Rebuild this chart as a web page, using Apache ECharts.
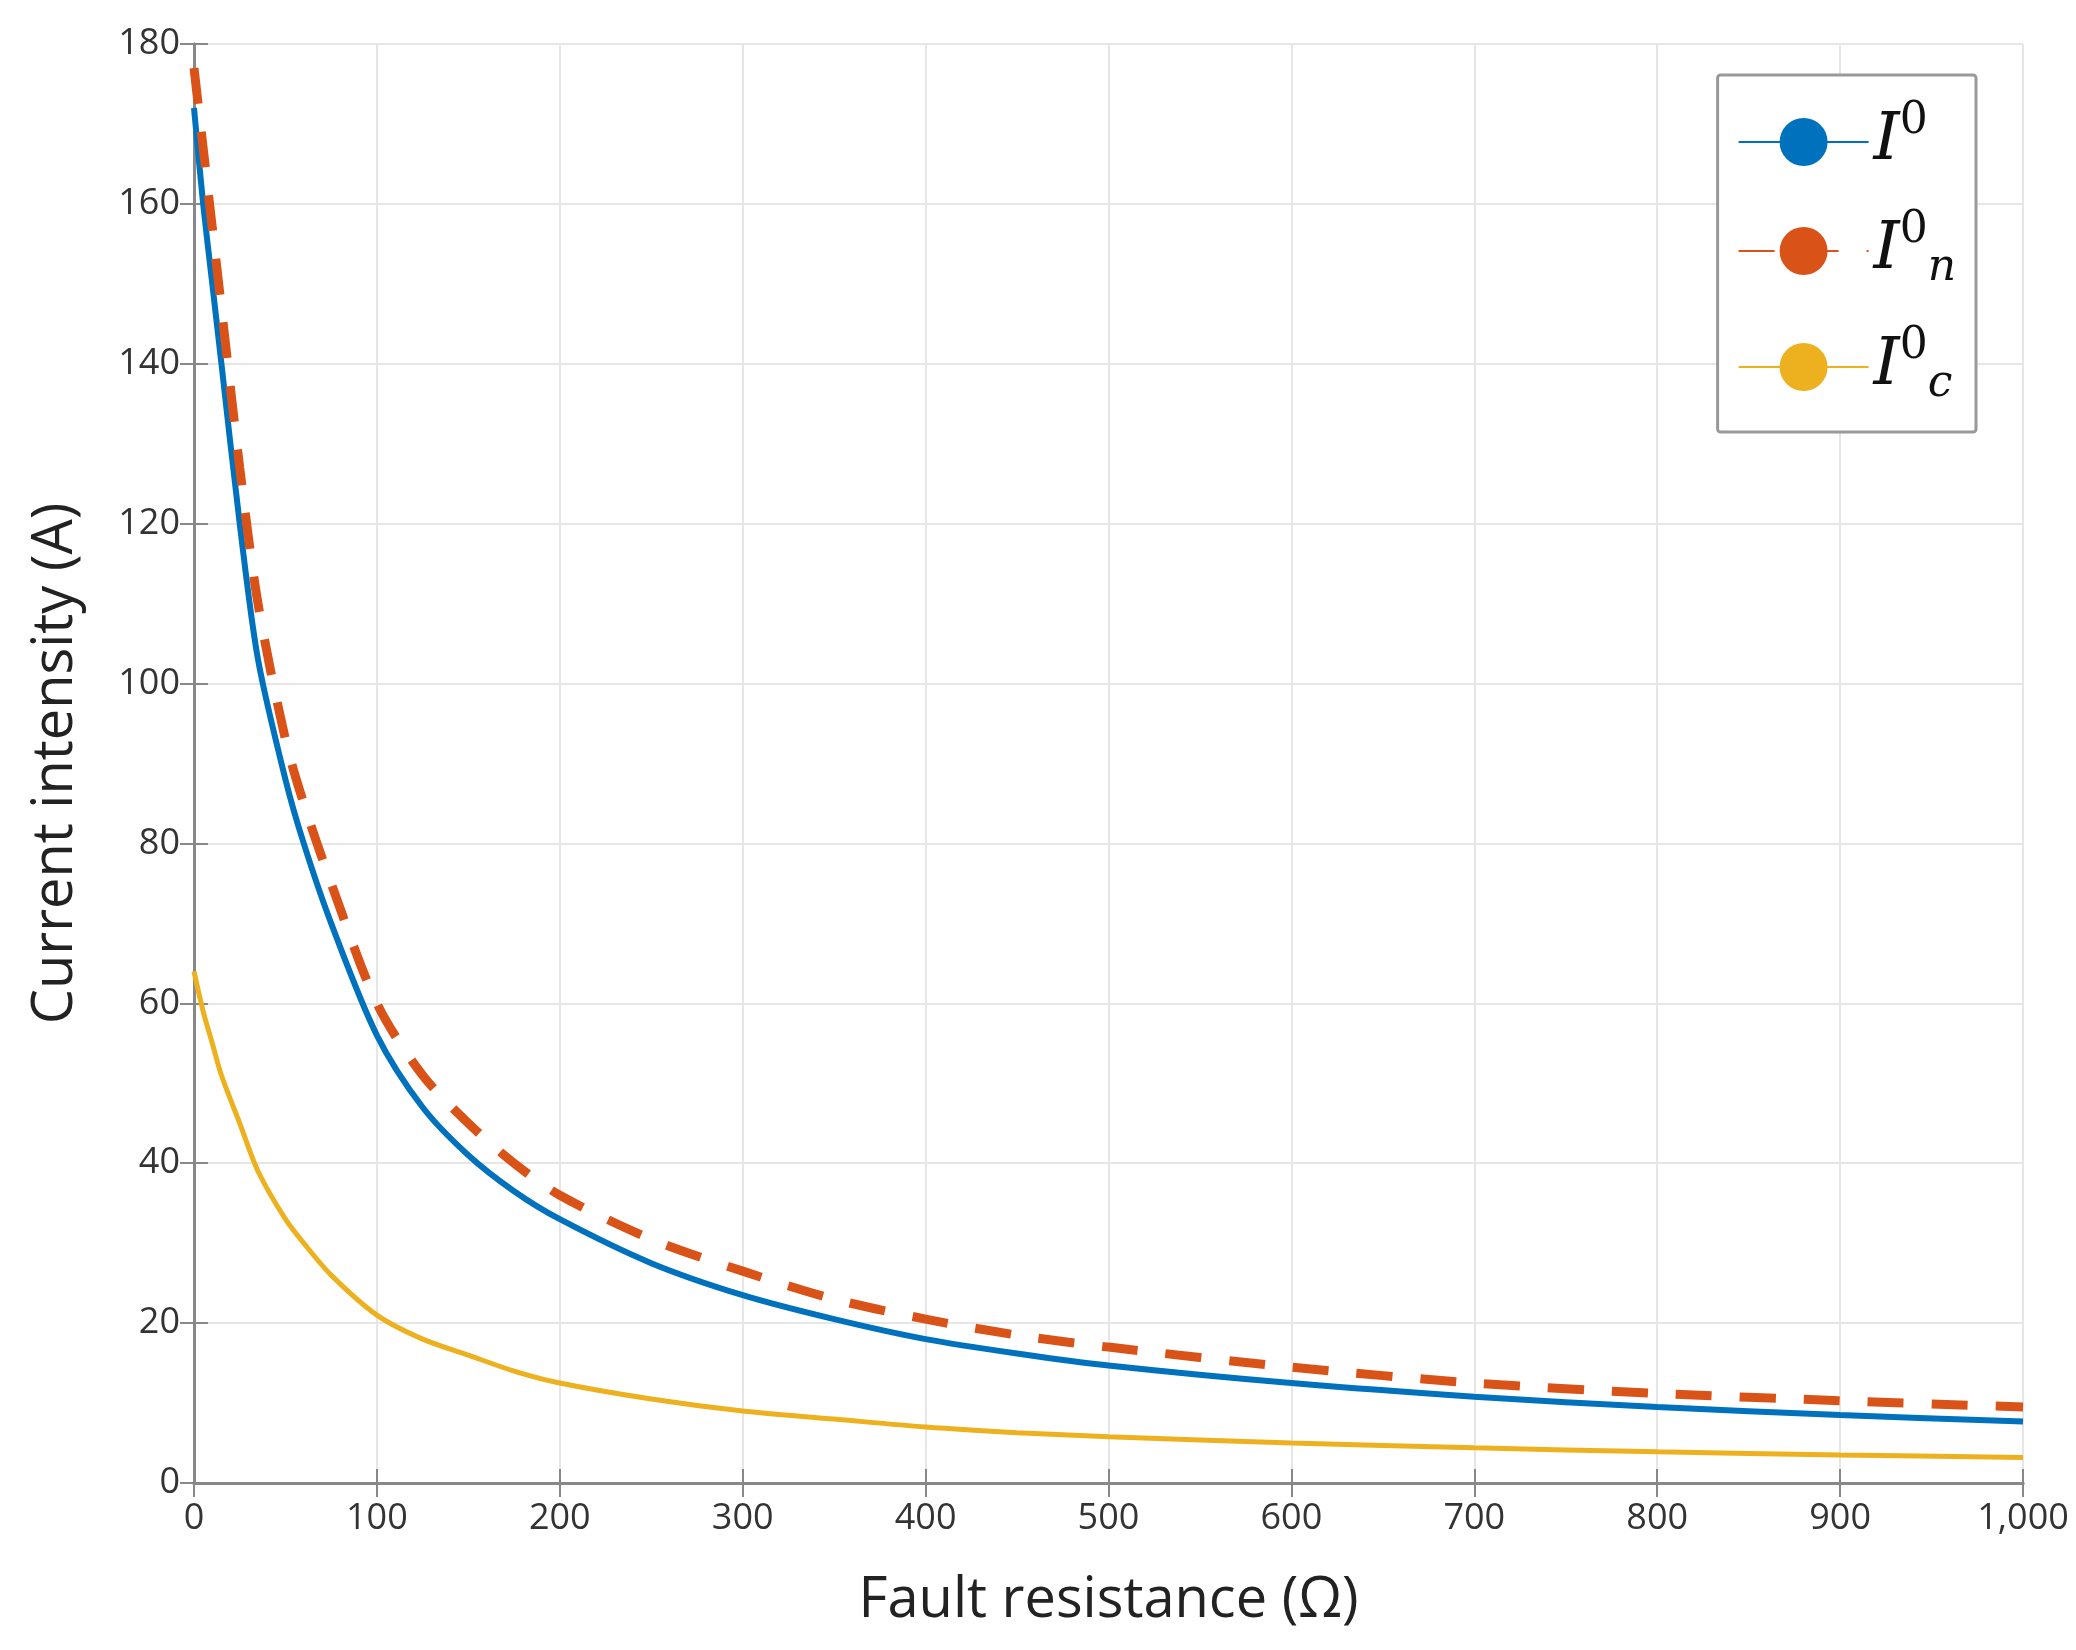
<!DOCTYPE html>
<html>
<head>
<meta charset="utf-8">
<script src="https://cdn.jsdelivr.net/npm/echarts@6/dist/echarts.min.js"></script>
</head>
<body style="margin:0;background:#fff">
<div id="chart" style="width:2076px;height:1650px"></div>
<script>
var resist = [0, 5, 10, 15, 25, 35, 50, 60, 75, 100, 125, 150, 175, 200, 250, 300, 350, 400, 450, 500, 600, 700, 800, 900, 1000];
var i0  = [172, 160, 150, 140, 120, 103, 88, 80, 70, 56, 47, 41, 36.5, 33, 27.5, 23.5, 20.5, 18, 16.2, 14.7, 12.5, 10.8, 9.5, 8.5, 7.7];
var in0 = [177, 167, 157, 147, 127, 110, 93, 85, 75, 60, 51, 45, 40, 36, 30.5, 26.5, 23, 20.5, 18.5, 17, 14.5, 12.5, 11.2, 10.3, 9.5];
var ic0 = [64, 59, 55, 51, 45, 39, 33, 30, 26, 21, 18, 16, 14, 12.5, 10.5, 9, 8, 7, 6.3, 5.8, 5, 4.4, 3.9, 3.5, 3.2];

function pairs(ys) { return resist.map(function (x, i) { return [x, ys[i]]; }); }

var chart = echarts.init(document.getElementById('chart'));
var axisCommon = {
    axisLine: { show: true, lineStyle: { color: '#888', width: 3 } },
    axisTick: { show: true, inside: true, length: 14, lineStyle: { color: '#888', width: 2 } }
};
var rich = {
    I: { fontFamily: 'DejaVu Serif', fontStyle: 'italic', fontSize: 66, color: '#111' },
    sup: { fontFamily: 'DejaVu Serif', fontSize: 44, color: '#111', verticalAlign: 'bottom', padding: [0, 0, 40, 0] },
    sub: { fontFamily: 'DejaVu Serif', fontStyle: 'italic', fontSize: 44, color: '#111', padding: [36, 0, 0, 0] }
};
chart.setOption({
    animation: false,
    grid: { left: 194, right: 53, top: 44, bottom: 167 },
    legend: {
        orient: 'vertical', right: 100, top: 75,
        backgroundColor: '#fff', borderColor: '#999', borderWidth: 3, borderRadius: 3,
        padding: [25, 20, 25, 20], itemGap: 34, itemWidth: 130, itemHeight: 60,
        data: ['I0', 'In0', 'Ic0'],
        formatter: function (n) {
            if (n === 'I0') return '{I|I}{sup|0}';
            if (n === 'In0') return '{I|I}{sup|0}{sub|n}';
            return '{I|I}{sup|0}{sub|c}';
        },
        textStyle: { rich: rich }
    },
    xAxis: [Object.assign({
        type: 'value', min: 0, max: 1000, interval: 100,
        name: 'Fault resistance (Ω)', nameLocation: 'middle', nameGap: 90,
        nameTextStyle: { fontSize: 56, color: '#222', fontFamily: 'Open Sans' },
        axisLabel: { fontSize: 36, color: '#333', margin: 18, fontFamily: 'Open Sans', formatter: '{value}' },
        splitLine: { show: true, lineStyle: { color: '#e6e6e6', width: 2 } }
    }, axisCommon), Object.assign({
        type: 'value', min: 0, max: 1000, interval: 100, position: 'top',
        axisLabel: { show: false }, splitLine: { show: false }
    }, axisCommon)],
    yAxis: [Object.assign({
        type: 'value', min: 0, max: 180, interval: 20,
        name: 'Current intensity (A)', nameLocation: 'middle', nameGap: 110,
        nameTextStyle: { fontSize: 56, color: '#222', fontFamily: 'Open Sans' },
        axisLabel: { fontSize: 36, color: '#333', margin: 14, fontFamily: 'Open Sans' },
        splitLine: { show: true, lineStyle: { color: '#e6e6e6', width: 2 } }
    }, axisCommon), Object.assign({
        type: 'value', min: 0, max: 180, interval: 20, position: 'right',
        axisLabel: { show: false }, splitLine: { show: false }
    }, axisCommon)],
    series: [
        { name: 'I0', type: 'line', smooth: 0.3, symbol: 'none', data: pairs(i0),
          lineStyle: { color: '#0072bd', width: 6 }, itemStyle: { color: '#0072bd' }, z: 3 },
        { name: 'In0', type: 'line', smooth: 0.3, symbol: 'none', data: pairs(in0),
          lineStyle: { color: '#d95319', width: 9, type: [36, 28] }, itemStyle: { color: '#d95319' }, z: 4 },
        { name: 'Ic0', type: 'line', smooth: 0.3, symbol: 'none', data: pairs(ic0),
          lineStyle: { color: '#edb120', width: 5 }, itemStyle: { color: '#edb120' }, z: 2 }
    ]
});
</script>
</body>
</html>
